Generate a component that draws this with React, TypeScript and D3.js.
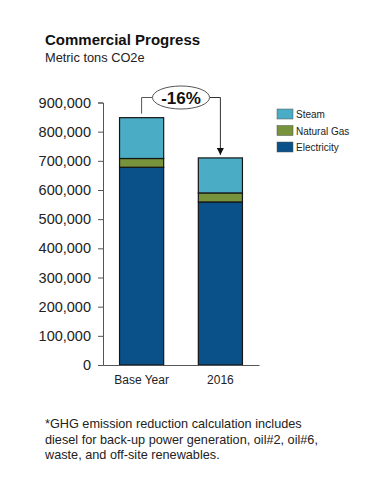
import React, { useEffect, useRef } from 'react';
import * as d3 from 'd3';

const categories = ['Base Year', '2016'];
const electricity = [678000, 559000];
const naturalGas = [30000, 31000];
const steam = [140000, 120000];
const seriesNames = ['Electricity', 'Natural Gas', 'Steam'];
const seriesColors = ['#0b5189', '#77933c', '#4bacc6'];
const yTicks = [0, 100000, 200000, 300000, 400000, 500000, 600000, 700000, 800000, 900000];
const changeLabel = '-16%';
const footnote = [
  '*GHG emission reduction calculation includes',
  'diesel for back-up power generation, oil#2, oil#6,',
  'waste, and off-site renewables.',
];

const FONT = 'Arial, "Liberation Sans", sans-serif';

const App = () => {
  const svgRef = useRef<SVGSVGElement>(null);

  useEffect(() => {
    const svg = d3.select(svgRef.current);
    svg.selectAll('*').remove();

    const rows = categories.map((c, i) => ({
      cat: c,
      Electricity: electricity[i],
      'Natural Gas': naturalGas[i],
      Steam: steam[i],
    }));
    const stacked = d3.stack<any>().keys(seriesNames)(rows);

    const y = d3.scaleLinear().domain([0, 900000]).range([365, 102.5]);
    const x = d3.scaleBand().domain(categories).range([103, 259]).paddingInner(0.44).paddingOuter(0.21);
    const color = d3.scaleOrdinal<string>().domain(seriesNames).range(seriesColors);

    // titles
    svg.append('text').attr('x', 45).attr('y', 45)
      .attr('font-family', FONT).attr('font-size', 15).attr('font-weight', 'bold')
      .attr('fill', '#111').text('Commercial Progress');
    svg.append('text').attr('x', 45).attr('y', 61.5)
      .attr('font-family', FONT).attr('font-size', 12.8)
      .attr('fill', '#222').text('Metric tons CO2e');

    // bars
    svg.append('g').selectAll('g').data(stacked).enter().append('g')
      .attr('fill', d => color(d.key))
      .selectAll('rect').data(d => d).enter().append('rect')
      .attr('x', d => x(d.data.cat)!)
      .attr('width', x.bandwidth())
      .attr('y', d => y(d[1]))
      .attr('height', d => y(d[0]) - y(d[1]))
      .attr('stroke', '#151515').attr('stroke-width', 1.2);

    // y axis
    const yAxis = svg.append('g').attr('transform', 'translate(103,0)')
      .call(d3.axisLeft(y).tickValues(yTicks).tickFormat(d3.format(',')).tickSize(5).tickPadding(7));
    yAxis.select('.domain').attr('stroke', '#555');
    yAxis.selectAll('.tick line').attr('stroke', '#555');
    yAxis.selectAll('text').attr('font-family', FONT).attr('font-size', 14.5).attr('fill', '#222');

    // x axis
    const xAxis = svg.append('g').attr('transform', 'translate(0,365)')
      .call(d3.axisBottom(x).tickSize(0).tickPadding(10));
    xAxis.select('.domain').attr('stroke', '#555');
    xAxis.selectAll('text').attr('font-family', FONT).attr('font-size', 12).attr('fill', '#222');

    // change annotation
    const total0 = electricity[0] + naturalGas[0] + steam[0];
    const total1 = electricity[1] + naturalGas[1] + steam[1];
    const cx0 = x(categories[0])! + x.bandwidth() / 2;
    const cx1 = x(categories[1])! + x.bandwidth() / 2;
    const ey = 97.5;
    const ecx = 181;
    const rx = 28.5;
    const ry = 11.5;

    const defs = svg.append('defs');
    defs.append('marker').attr('id', 'arrow').attr('viewBox', '0 0 10 10')
      .attr('refX', 10).attr('refY', 5).attr('markerWidth', 7).attr('markerHeight', 7)
      .attr('markerUnits', 'userSpaceOnUse').attr('orient', 'auto')
      .append('path').attr('d', 'M0,0L10,5L0,10Z').attr('fill', '#111');

    svg.append('path')
      .attr('d', `M${cx0},${y(total0) - 4}V${ey}H${ecx - rx}`)
      .attr('fill', 'none').attr('stroke', '#555').attr('stroke-width', 1);
    svg.append('path')
      .attr('d', `M${ecx + rx},${ey}H${cx1}V${y(total1) - 3}`)
      .attr('fill', 'none').attr('stroke', '#333').attr('stroke-width', 1)
      .attr('marker-end', 'url(#arrow)');
    svg.append('ellipse').attr('cx', ecx).attr('cy', ey).attr('rx', rx).attr('ry', ry)
      .attr('fill', '#fff').attr('stroke', '#555').attr('stroke-width', 1);
    svg.append('text').attr('x', ecx).attr('y', ey + 6).attr('text-anchor', 'middle')
      .attr('font-family', FONT).attr('font-size', 17).attr('font-weight', 'bold')
      .attr('fill', '#111').text(changeLabel);

    // legend (top to bottom: Steam, Natural Gas, Electricity)
    const legendItems = [...seriesNames].reverse();
    const lg = svg.append('g').attr('transform', 'translate(277,109)');
    legendItems.forEach((name, i) => {
      const row = lg.append('g').attr('transform', `translate(0,${i * 16.5})`);
      row.append('rect').attr('width', 16).attr('height', 10)
        .attr('fill', color(name)).attr('stroke', '#555').attr('stroke-width', 0.5);
      row.append('text').attr('x', 19).attr('y', 9)
        .attr('font-family', FONT).attr('font-size', 10).attr('fill', '#222').text(name);
    });

    // footnote
    const fn = svg.append('text').attr('font-family', FONT).attr('font-size', 12.7).attr('fill', '#222');
    footnote.forEach((line, i) => {
      fn.append('tspan').attr('x', 45).attr('y', 428 + i * 15.5).text(line);
    });
  }, []);

  return (
    <svg
      ref={svgRef}
      width={384}
      height={488}
      style={{ position: 'absolute', left: 0, top: 0, background: '#fff' }}
    />
  );
};

export default App;
